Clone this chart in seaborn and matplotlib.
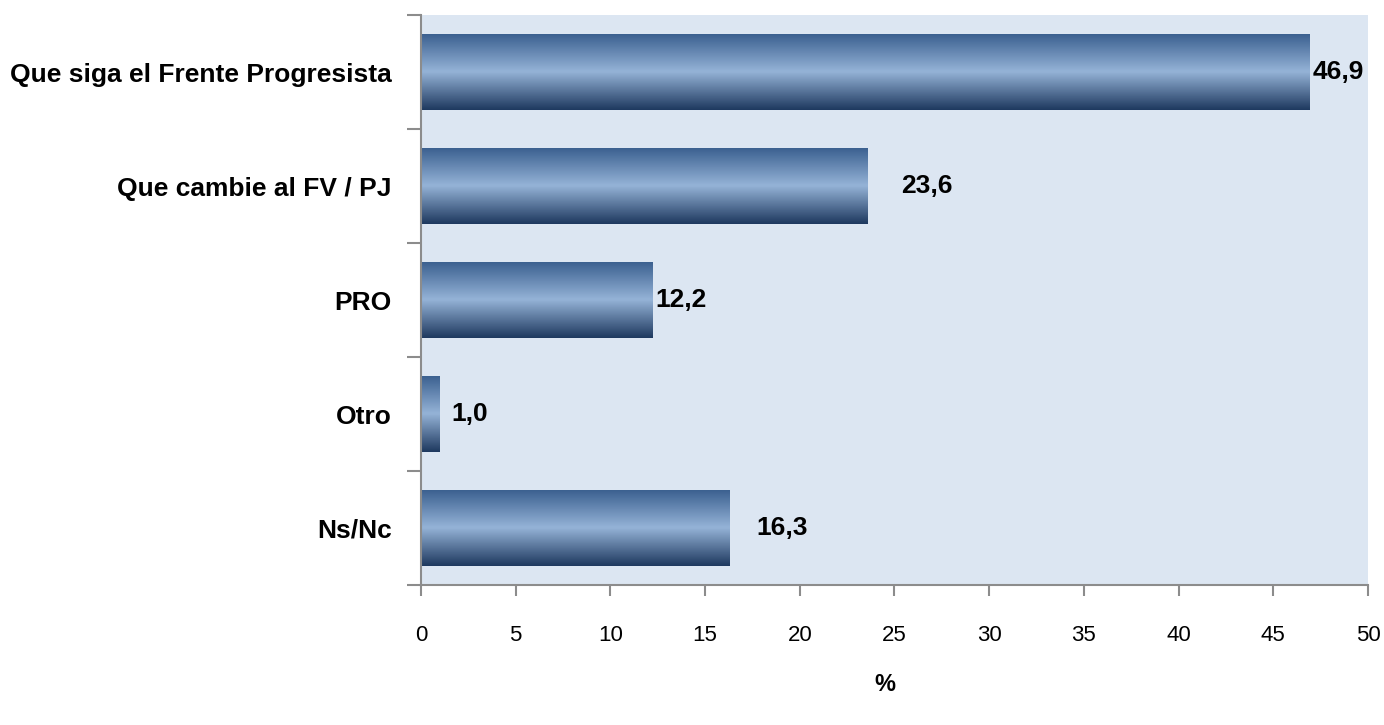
import numpy as np
import pandas as pd
import seaborn as sns
import matplotlib.pyplot as plt
from matplotlib.colors import LinearSegmentedColormap

categories = ["Que siga el Frente Progresista", "Que cambie al FV / PJ", "PRO", "Otro", "Ns/Nc"]
values = [46.9, 23.6, 12.2, 1.0, 16.3]
value_labels = ["46,9", "23,6", "12,2", "1,0", "16,3"]
# label offset from bar end, in data units
label_offsets = [0.2, 1.75, 0.2, 0.6, 1.4]

sns.set_theme(style="white")
plt.rcParams["font.family"] = ["Liberation Sans", "DejaVu Sans"]

bg_color = "#dce6f2"
spine_color = "#8c8c8c"
bar_cmap = LinearSegmentedColormap.from_list(
    "bar", ["#3a5f8f", "#95b3d7", "#1f3a60"])

df = pd.DataFrame({"cat": categories, "val": values})

fig = plt.figure(figsize=(13.84, 7.25), dpi=100)
ax = fig.add_axes([0.3042, 0.1931, 0.6842, 0.7862])
ax.set_facecolor(bg_color)

sns.barplot(data=df, y="cat", x="val", orient="h", ax=ax, width=0.67,
            color="#5a7fad", linewidth=0)

# gradient fill, dark at top and bottom, light in the middle
grad = np.linspace(0, 1, 100)[:, None]
for p in ax.patches:
    x0, y0 = p.get_x(), p.get_y()
    w, h = p.get_width(), p.get_height()
    im = ax.imshow(grad, cmap=bar_cmap, aspect="auto",
                   extent=(x0, x0 + w, y0 + h, y0), origin="upper", zorder=p.get_zorder() + 0.1)
    im.set_clip_path(p)

for i, (v, lab) in enumerate(zip(values, value_labels)):
    ax.text(v + label_offsets[i], i, lab, va="center", ha="left",
            fontsize=19, fontweight="bold", color="black")

ax.set_xlim(0, 50)
ax.set_ylim(4.5, -0.5)
ax.set_xticks(np.arange(0, 51, 5))
ax.set_xticklabels([str(t) for t in range(0, 51, 5)], fontsize=16, color="black")
ax.set_yticks(range(len(categories)))
ax.set_yticklabels(categories, fontsize=19, fontweight="bold", color="black")
ax.set_yticks(np.arange(-0.5, 5, 1), minor=True)
ax.tick_params(axis="y", which="major", length=0, pad=21)
ax.tick_params(axis="y", which="minor", length=10, width=1.5, color=spine_color, direction="out", left=True)
ax.tick_params(axis="x", which="major", length=8, width=1.5, color=spine_color, direction="out", bottom=True, pad=21)

ax.set_xlabel("%", fontsize=17, fontweight="bold", color="black")
ax.xaxis.set_label_coords(0.49, -0.155)
ax.set_ylabel("")

for s in ["top", "right"]:
    ax.spines[s].set_visible(False)
for s in ["left", "bottom"]:
    ax.spines[s].set_color(spine_color)
    ax.spines[s].set_linewidth(1.5)

fig.savefig("out.png", dpi=100)
